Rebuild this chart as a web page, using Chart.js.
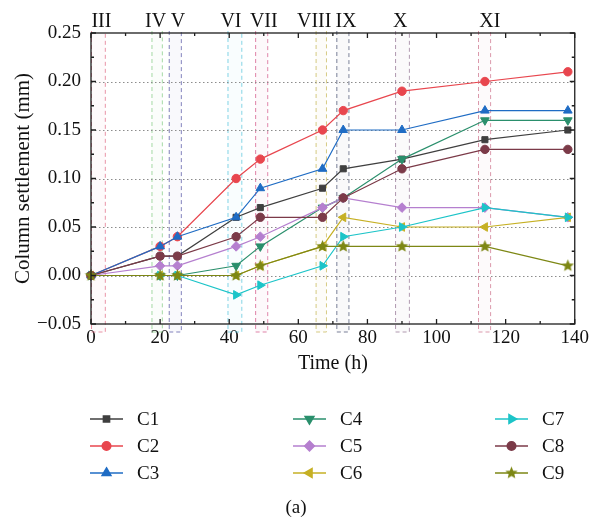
<!DOCTYPE html>
<html>
<head>
<meta charset="utf-8">
<script src="https://cdn.jsdelivr.net/npm/chart.js@4.4.1/dist/chart.umd.min.js"></script>
<style>
  html, body { margin: 0; padding: 0; background: #fff; }
  #wrap { width: 592px; height: 522px; }
</style>
</head>
<body>
<div id="wrap"><canvas id="chart" width="592" height="522"></canvas></div>
<script>
// ===== Data
const hours = [0, 20, 25, 42, 49, 67, 73, 90, 114, 138];
const seriesNames = ['C1', 'C2', 'C3', 'C4', 'C5', 'C6', 'C7', 'C8', 'C9'];
const c1 = [0, 0.02, 0.02, 0.06, 0.07, 0.09, 0.11, 0.12, 0.14, 0.15];
const c2 = [0, 0.03, 0.04, 0.10, 0.12, 0.15, 0.17, 0.19, 0.20, 0.21];
const c3 = [0, 0.03, 0.04, 0.06, 0.09, 0.11, 0.15, 0.15, 0.17, 0.17];
const c4 = [0, 0, 0, 0.01, 0.03, 0.07, 0.08, 0.12, 0.16, 0.16];
const c5 = [0, 0.01, 0.01, 0.03, 0.04, 0.07, 0.08, 0.07, 0.07, 0.06];
const c6 = [0, 0, 0, 0, 0.01, 0.03, 0.06, 0.05, 0.05, 0.06];
const c7 = [0, 0, 0, -0.02, -0.01, 0.01, 0.04, 0.05, 0.07, 0.06];
const c8 = [0, 0.02, 0.02, 0.04, 0.06, 0.06, 0.08, 0.11, 0.13, 0.13];
const c9 = [0, 0, 0, 0, 0.01, 0.03, 0.03, 0.03, 0.03, 0.01];
const allSeries = [c1, c2, c3, c4, c5, c6, c7, c8, c9];

// construction stages (time intervals, h)
const stageNames = ['III', 'IV', 'V', 'VI', 'VII', 'VIII', 'IX', 'X', 'XI'];
const stageStart = [0, 17.5, 22.5, 39.5, 47.5, 65, 71, 88, 112];
const stageEnd = [4, 20.5, 26, 43.5, 51, 68, 74.5, 92, 115.5];
const stageLabelAt = [3, 18.7, 25.2, 40.5, 50, 64.6, 73.8, 89.5, 115.4];

// ===== Styles
const FONT = "'Liberation Serif', 'Times New Roman', serif";
const lineColors = ['#3f3f3f', '#e8464e', '#1f6cc4', '#2a8f6c', '#b57fcf', '#c6b024', '#1cc4c8', '#7b3a48', '#7d8714'];
const stageColors = ['#e07088', '#86cc86', '#5a5aa6', '#5cc6dc', '#d45c8c', '#c8b85a', '#4e5676', '#957896', '#cf7890'];

function starImage(color, r) {
    const cv = document.createElement('canvas');
    const s = Math.ceil(r * 2) + 2;
    cv.width = s; cv.height = s;
    const g = cv.getContext('2d');
    g.beginPath();
    for (let k = 0; k < 10; k++) {
        const rad = k % 2 ? r * 0.45 : r;
        const a = -Math.PI / 2 + k * Math.PI / 5;
        g.lineTo(s / 2 + rad * Math.cos(a), s / 2 + rad * Math.sin(a));
    }
    g.closePath();
    g.fillStyle = color;
    g.fill();
    return cv;
}

const pointStyles = ['rect', 'circle', 'triangle', 'triangle', 'rectRot', 'triangle', 'triangle', 'circle', starImage(lineColors[8], 6.5)];
const pointRot = [0, 0, 0, 180, 0, 270, 90, 0, 0];
const pointRad = [4.3, 4.2, 5, 5, 4.8, 5, 5, 4.2, 5];

// later series are painted on top (like the original plot)
const datasets = allSeries.map((vals, i) => ({
    label: seriesNames[i],
    data: hours.map((h, k) => ({ x: h, y: vals[k] })),
    borderColor: lineColors[i],
    backgroundColor: lineColors[i],
    pointBackgroundColor: lineColors[i],
    pointBorderColor: lineColors[i],
    borderWidth: 1.2,
    pointStyle: pointStyles[i],
    rotation: pointRot[i],
    pointRadius: pointRad[i],
    pointBorderWidth: 1,
    tension: 0,
    clip: false,
    order: allSeries.length - i
}));

// ===== Plugin: stage boxes, dotted grid, frame with inward ticks, labels, legend
const decor = {
    id: 'decor',
    beforeDatasetsDraw(chart) {
        const { ctx, chartArea: a, scales: { x, y } } = chart;
        ctx.save();
        // stage boxes
        stageNames.forEach((n, i) => {
            const x0 = x.getPixelForValue(stageStart[i]);
            const x1 = x.getPixelForValue(stageEnd[i]);
            ctx.globalAlpha = 0.035;
            ctx.fillStyle = stageColors[i];
            ctx.fillRect(x0, a.top, x1 - x0, a.bottom + 8 - a.top);
            ctx.globalAlpha = 0.75;
            ctx.strokeStyle = stageColors[i];
            ctx.lineWidth = 1;
            ctx.setLineDash([4, 3]);
            ctx.beginPath();
            ctx.moveTo(x0 + 0.5, a.top - 2);
            ctx.lineTo(x0 + 0.5, a.bottom + 8);
            ctx.lineTo(x1 + 0.5, a.bottom + 8);
            ctx.lineTo(x1 + 0.5, a.top - 2);
            ctx.stroke();
        });
        ctx.globalAlpha = 1;
        // dotted horizontal grid
        ctx.strokeStyle = '#8c8c8c';
        ctx.setLineDash([1.5, 2.5]);
        ctx.lineWidth = 1;
        y.ticks.forEach(t => {
            const py = Math.round(y.getPixelForValue(t.value)) + 0.5;
            if (py <= a.top + 1 || py >= a.bottom - 1) return;
            ctx.beginPath();
            ctx.moveTo(a.left, py);
            ctx.lineTo(a.right, py);
            ctx.stroke();
        });
        ctx.restore();
    },
    afterDatasetsDraw(chart) {
        const { ctx, chartArea: a, scales: { x, y } } = chart;
        ctx.save();
        ctx.strokeStyle = '#1e1e1e';
        ctx.lineWidth = 1.3;
        ctx.setLineDash([]);
        ctx.strokeRect(a.left, a.top, a.right - a.left, a.bottom - a.top);
        ctx.beginPath();
        for (let v = 0; v <= 140; v += 10) {
            const px = x.getPixelForValue(v);
            const len = v % 20 === 0 ? 5 : 3;
            ctx.moveTo(px, a.bottom); ctx.lineTo(px, a.bottom - len);
            ctx.moveTo(px, a.top); ctx.lineTo(px, a.top + len);
        }
        for (let k = 0; k <= 12; k++) {
            const v = -0.05 + k * 0.025;
            const py = y.getPixelForValue(v);
            const len = k % 2 === 0 ? 5 : 3;
            ctx.moveTo(a.left, py); ctx.lineTo(a.left + len, py);
            ctx.moveTo(a.right, py); ctx.lineTo(a.right - len, py);
        }
        ctx.stroke();
        ctx.restore();
    },
    afterDraw(chart) {
        const { ctx, chartArea: a, scales: { x } } = chart;
        ctx.save();
        // stage labels
        ctx.fillStyle = '#111';
        ctx.font = `20px ${FONT}`;
        ctx.textAlign = 'center';
        ctx.textBaseline = 'alphabetic';
        stageNames.forEach((n, i) => {
            ctx.fillText(n, x.getPixelForValue(stageLabelAt[i]), a.top - 6);
        });
        // legend, 3 columns
        const colX = [90, 293, 495];
        const rowY = [419, 446, 473];
        datasets.forEach((d, i) => {
            const lx = colX[Math.floor(i / 3)];
            const ly = rowY[i % 3];
            ctx.strokeStyle = d.borderColor;
            ctx.lineWidth = 1.6;
            ctx.beginPath();
            ctx.moveTo(lx, ly); ctx.lineTo(lx + 33, ly);
            ctx.stroke();
            ctx.fillStyle = d.borderColor;
            Chart.helpers.drawPoint(ctx, {
                pointStyle: d.pointStyle, rotation: d.rotation,
                radius: d.pointRadius, borderWidth: 1
            }, lx + 16.5, ly);
            ctx.fillStyle = '#111';
            ctx.font = `19px ${FONT}`;
            ctx.textAlign = 'left';
            ctx.textBaseline = 'middle';
            ctx.fillText(d.label, lx + 47, ly + 1);
        });
        ctx.textAlign = 'center';
        ctx.fillText('(a)', 296, 508);
        ctx.restore();
    }
};

new Chart(document.getElementById('chart'), {
    type: 'line',
    data: { datasets },
    options: {
        responsive: false,
        animation: false,
        devicePixelRatio: 1,
        layout: { padding: { top: 33, right: 15, bottom: 146, left: 0 } },
        plugins: { legend: { display: false }, tooltip: { enabled: false } },
        scales: {
            x: {
                type: 'linear', min: 0, max: 140,
                afterFit: s => { s.height = 52; },
                ticks: { stepSize: 20, color: '#111', font: { family: FONT, size: 19 }, padding: 3, maxRotation: 0 },
                grid: { display: false, drawTicks: false },
                border: { display: false },
                title: { display: true, text: 'Time (h)', color: '#111', font: { family: FONT, size: 20 }, padding: { top: 2, bottom: 0 } }
            },
            y: {
                min: -0.05, max: 0.25,
                afterFit: s => { s.width = 91; },
                ticks: {
                    stepSize: 0.05, color: '#111', font: { family: FONT, size: 19 }, padding: 10,
                    callback: v => Math.abs(v) < 1e-9 ? '0.00' : (v < 0 ? '\u2212' : '') + Math.abs(v).toFixed(2)
                },
                grid: { display: false, drawTicks: false },
                border: { display: false },
                title: { display: true, text: 'Column settlement (mm)', color: '#111', font: { family: FONT, size: 21 }, padding: { top: 11, bottom: 0 } }
            }
        }
    },
    plugins: [decor]
});
</script>
</body>
</html>
